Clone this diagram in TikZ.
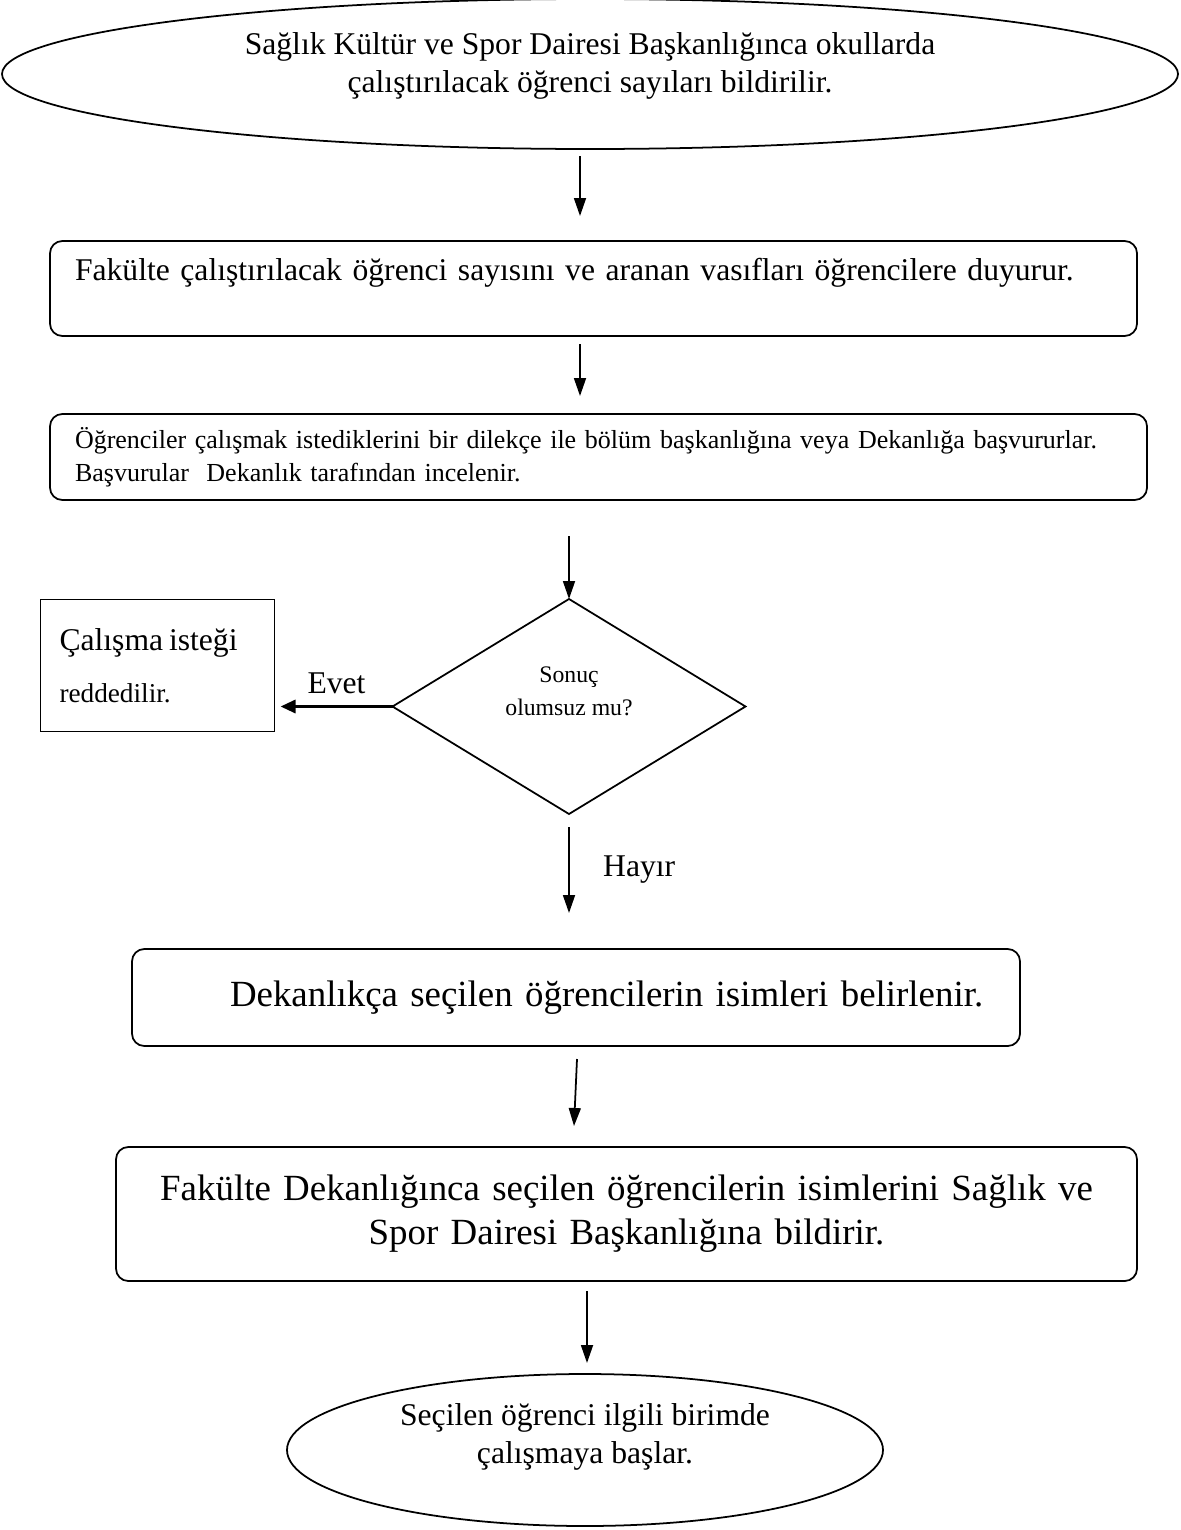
\documentclass[tikz,border=0pt]{standalone}
\usepackage{fontspec}
\setmainfont{Liberation Serif}
\usetikzlibrary{positioning, arrows.meta, shapes.geometric}
\newcommand{\txtmid}{\fontsize{18}{21.6}\selectfont}
\newcommand{\txtsmall}{\fontsize{14.8}{18.8}\selectfont}
\newcommand{\txtdiam}{\fontsize{13.5}{18.8}\selectfont}
\newcommand{\txtbig}{\fontsize{21}{25}\selectfont}

\begin{document}
\begin{tikzpicture}[
  node distance=1.8cm,
  oval/.style={draw, ellipse, line width=1pt, inner sep=0pt, outer sep=0pt,
               align=center, font=\txtmid},
  stepbox/.style={draw, rounded corners=7pt, line width=1pt, inner xsep=0.5cm,
                  inner ysep=0pt, outer sep=0pt, align=left},
  decision/.style={draw, diamond, aspect=1.64, line width=1pt, inner sep=0pt,
                   outer sep=0pt, minimum width=7.06cm, minimum height=4.3cm,
                   align=center, font=\txtdiam},
  rejectbox/.style={draw, line width=1pt, inner xsep=0.38cm, outer sep=0pt,
                    align=left, text width=3.92cm, minimum height=2.64cm},
  arrow/.style={-{Triangle[length=0.36cm, width=0.24cm]}, line width=1pt},
  thick_arrow/.style={-{Triangle[length=0.3cm, width=0.26cm]}, line width=1.8pt},
]
  \useasboundingbox (0,0) rectangle (23.62,-30.6);
  % Start
  \node[oval, minimum width=23.52cm, minimum height=3cm, text depth=0.46cm]
    (start) at (11.8,-1.48)
    {Sağlık Kültür ve Spor Dairesi Başkanlığınca okullarda\\
     çalıştırılacak öğrenci sayıları bildirilir.};
  % Announcement
  \node[stepbox, text width=20.74cm, minimum height=1.9cm, font=\txtmid,
        below=1.84cm of start, xshift=0.07cm] (announce)
    {\mbox{Fakülte çalıştırılacak öğrenci sayısını ve aranan vasıfları öğrencilere duyurur.}\\ \mbox{}};
  \draw[arrow] ([xshift=-0.2cm, yshift=-0.14cm]start.south)
    -- ([xshift=-0.27cm, yshift=0.5cm]announce.north);
  % Applications
  \node[stepbox, text width=20.94cm, minimum height=1.72cm, font=\txtsmall,
        below=1.56cm of announce, xshift=0.1cm] (apply)
    {\mbox{Öğrenciler çalışmak istediklerini bir dilekçe ile bölüm başkanlığına veya Dekanlığa başvururlar.}\\
     Başvurular\ \ Dekanlık tarafından incelenir.};
  \draw[arrow] ([xshift=-0.27cm, yshift=-0.16cm]announce.south)
    -- ([xshift=-0.37cm, yshift=0.36cm]apply.north);

  % Decision
  \node[decision, text depth=0.6cm, below=1.98cm of apply, xshift=-0.59cm] (check)
    {Sonuç\\olumsuz mu?};
  \draw[arrow] ([yshift=-0.72cm]apply.south -| check.north) -- (check.north);
  % Rejected
  \node[rejectbox, left=2.36cm of check, yshift=0.82cm] (reject)
    {\txtmid Çalışma isteği\\[0.5cm]
     \fontsize{15.5}{18.8}\selectfont reddedilir.};
  \draw[thick_arrow] (check.west) -- ([xshift=0.12cm]check.west -| reject.east)
    node[midway, above=0.1cm, font=\txtmid] (yes) {Evet};

  % Selected names
  \node[stepbox, text width=16.76cm, minimum height=1.94cm, font=\txtbig,
        below=2.7cm of check, xshift=0.14cm] (names)
    {\hspace*{1.46cm}\mbox{Dekanlıkça seçilen öğrencilerin isimleri belirlenir.}\\[0.3cm]};
  \draw[arrow] ([yshift=-0.26cm]check.south)
    -- ([yshift=0.72cm]check.south |- names.north)
    node[midway, right=0.55cm, font=\txtmid] (no) {Hayır};
  % Notify
  \node[stepbox, text width=19.42cm, minimum height=2.68cm, font=\txtbig,
        align=center, below=2.02cm of names, xshift=1.01cm] (notify)
    {\mbox{Fakülte Dekanlığınca seçilen öğrencilerin isimlerini Sağlık ve}\\
     Spor Dairesi Başkanlığına bildirir.\\[0.3cm]};
  \draw[arrow] ([xshift=0.02cm, yshift=-0.26cm]names.south)
    -- ([xshift=-1.05cm, yshift=0.42cm]notify.north);

  % End
  \node[oval, minimum width=11.92cm, minimum height=3.04cm, text depth=0.66cm,
        below=1.86cm of notify, xshift=-0.83cm] (stop)
    {Seçilen öğrenci ilgili birimde\\
     çalışmaya başlar.};
  \draw[arrow] ([xshift=-0.79cm, yshift=-0.2cm]notify.south)
    -- ([xshift=0.04cm, yshift=0.22cm]stop.north);
\end{tikzpicture}
\end{document}
